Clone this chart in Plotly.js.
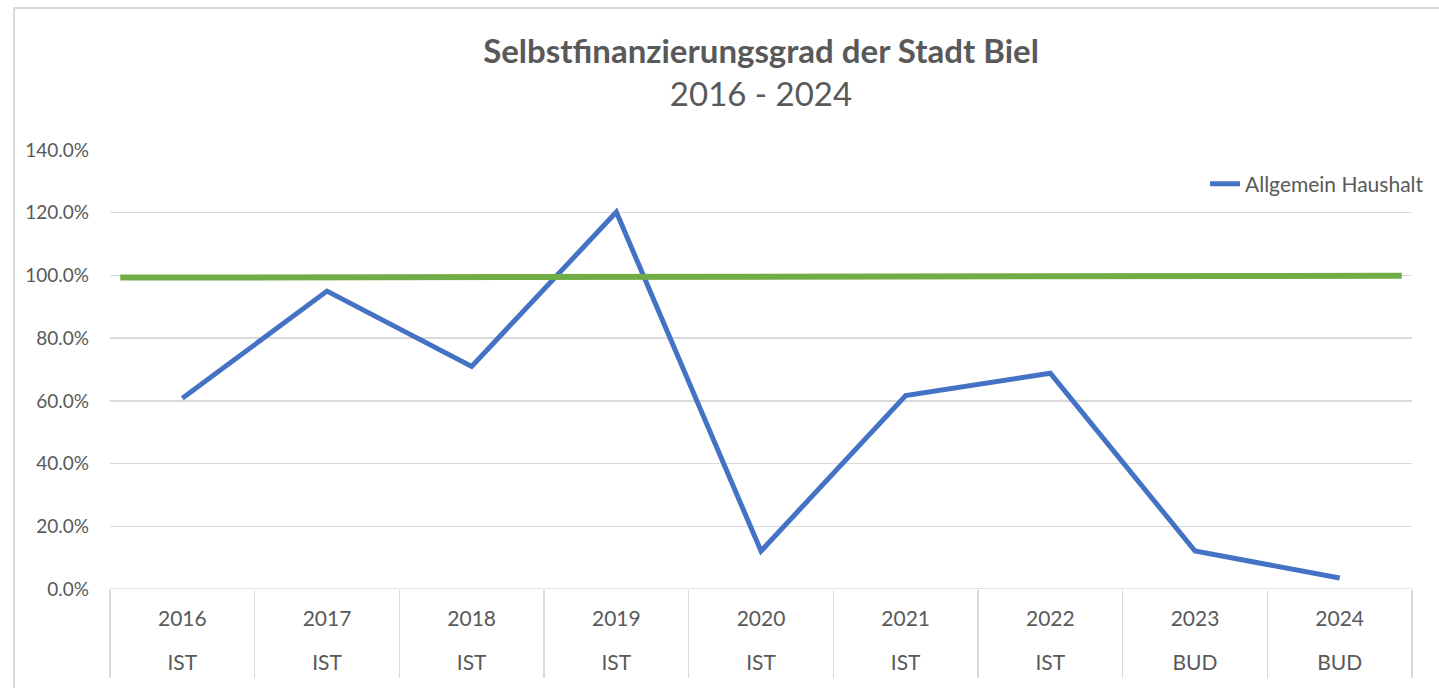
<!DOCTYPE html>
<html>
<head>
<meta charset="utf-8">
<script src="https://cdn.plot.ly/plotly-3.0.1.min.js"></script>
<style>
  html, body { margin: 0; padding: 0; background: #ffffff; width: 1439px; height: 688px; overflow: hidden; }
  #frame { position: absolute; left: 13px; top: 7px; width: 1426px; height: 681px;
           border-left: 2px solid #d9d9d9; border-top: 2px solid #d9d9d9; }
  #chart { width: 1424px; height: 679px; }
</style>
</head>
<body>
<div id="frame"><div id="chart"></div></div>
<script>
// ---- data ----
const years = ['2016', '2017', '2018', '2019', '2020', '2021', '2022', '2023', '2024'];
const types = ['IST', 'IST', 'IST', 'IST', 'IST', 'IST', 'IST', 'BUD', 'BUD'];
const allgemeinHaushalt = [60.8, 95.0, 71.0, 120.2, 12.1, 61.7, 68.8, 12.1, 3.5];
const referenceX = [0, 1];
const referenceY = [99.3, 99.9];
const yTicks = [0, 20, 40, 60, 80, 100, 120, 140];

const FONT = 'Lato, "Open Sans", sans-serif';
const TXT = '#595959';
const GRID = '#d9d9d9';

const traces = [
  {
    x: referenceX, y: referenceY, xaxis: 'x2', yaxis: 'y',
    type: 'scatter', mode: 'lines', showlegend: false, hoverinfo: 'skip',
    line: { color: '#70AD47', width: 6 }
  },
  {
    x: years, y: allgemeinHaushalt, name: 'Allgemein Haushalt',
    type: 'scatter', mode: 'lines',
    line: { color: '#4472C4', width: 5 }
  },
  {
    x: years, y: allgemeinHaushalt, xaxis: 'x3', yaxis: 'y',
    type: 'scatter', mode: 'lines', showlegend: false, hoverinfo: 'skip',
    line: { color: 'rgba(0,0,0,0)', width: 0 }
  }
];

const layout = {
  width: 1424, height: 679,
  paper_bgcolor: '#ffffff', plot_bgcolor: '#ffffff',
  margin: { l: 95, r: 27, t: 141, b: 99, autoexpand: false },
  font: { family: FONT, color: TXT, size: 19 },
  title: {
    text: '<b>Selbstfinanzierungsgrad der Stadt Biel</b><br>2016 - 2024',
    font: { family: FONT, size: 33, color: TXT },
    x: 0.5, xanchor: 'center', xref: 'paper',
    y: 0.921, yanchor: 'middle', yref: 'container'
  },
  xaxis: {
    type: 'category', tickmode: 'array', tickvals: years, ticktext: years,
    range: [-0.5, years.length - 0.5],
    showgrid: false, zeroline: false, showline: false,
    tickson: 'boundaries', ticks: 'outside', ticklen: 88, tickwidth: 1.5, tickcolor: GRID,
    ticklabelstandoff: 15,
    tickfont: { family: FONT, size: 21, color: TXT },
    fixedrange: true
  },
  xaxis2: {
    overlaying: 'x', range: [-0.008, 1.008], visible: false, fixedrange: true
  },
  xaxis3: {
    overlaying: 'x', anchor: 'y', side: 'bottom',
    type: 'category', tickmode: 'array', tickvals: years, ticktext: types,
    range: [-0.5, years.length - 0.5],
    showgrid: false, zeroline: false, showline: false, ticks: '',
    ticklabelstandoff: 59,
    tickfont: { family: FONT, size: 21, color: TXT },
    fixedrange: true
  },
  yaxis: {
    range: [0, 140], tickmode: 'array', tickvals: yTicks,
    ticktext: yTicks.map(v => v.toFixed(1) + '%'),
    showgrid: true, gridcolor: GRID, gridwidth: 1.5,
    zeroline: false, showline: false, ticks: '',
    ticklabelstandoff: 20,
    tickfont: { family: FONT, size: 19, color: TXT },
    fixedrange: true
  },
  showlegend: true,
  legend: {
    xref: 'container', yref: 'container',
    x: 0.8357, y: 0.742, xanchor: 'left', yanchor: 'middle',
    bgcolor: 'rgba(0,0,0,0)', font: { family: FONT, size: 21, color: TXT }
  },
  shapes: [
    { type: 'line', xref: 'paper', yref: 'y', x0: 0, x1: 1, y0: 0, y1: 0,
      line: { color: GRID, width: 1.5 }, layer: 'below' }
  ]
};

Plotly.newPlot('chart', traces, layout, { displayModeBar: false, staticPlot: true });
</script>
</body>
</html>
